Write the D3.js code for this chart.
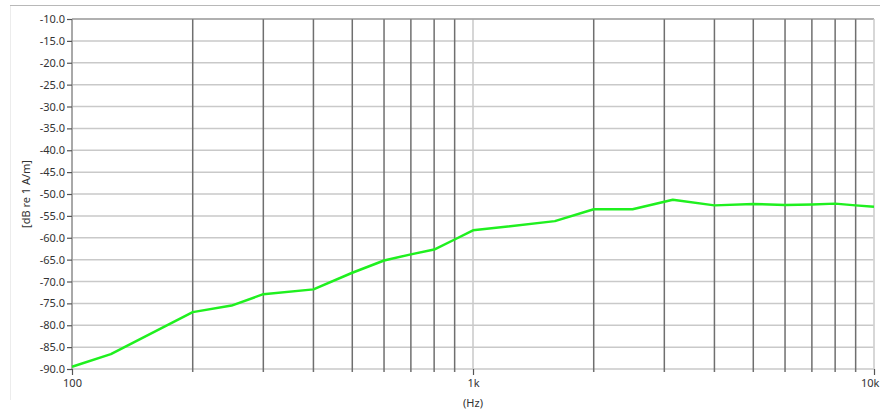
<!DOCTYPE html>
<html>
<head>
<meta charset="utf-8">
<script src="https://cdn.jsdelivr.net/npm/d3@7"></script>
<style>
  html, body { margin: 0; padding: 0; background: #fff; }
  svg { display: block; font-family: "Noto Sans", "Open Sans", sans-serif; }
</style>
</head>
<body>
<svg id="chart" width="880" height="415"></svg>
<script>
// Data
const frequencies = [100, 125, 200, 250, 300, 400, 500, 600, 700, 800, 900, 1000, 1600, 2000, 2500, 3150, 4000, 5000, 6000, 7000, 8000, 9000, 10000];
const levels = [-89.5, -86.6, -77.0, -75.5, -72.9, -71.8, -68.0, -65.2, -63.8, -62.7, -60.4, -58.3, -56.2, -53.5, -53.5, -51.3, -52.6, -52.3, -52.5, -52.4, -52.2, -52.6, -52.9];
const yTicks = [-10, -15, -20, -25, -30, -35, -40, -45, -50, -55, -60, -65, -70, -75, -80, -85, -90];
const xMajorTicks = [100, 1000, 10000];
const xMajorLabels = ["100", "1k", "10k"];
const xMinorTicks = [200, 300, 400, 500, 600, 700, 800, 900, 2000, 3000, 4000, 5000, 6000, 7000, 8000, 9000];
const yTitle = "[dB re 1 A/m]";
const xTitle = "(Hz)";

const svg = d3.select("#chart");
const L = 72, R = 874, T = 19, B = 369;

const x = d3.scaleLog().domain([100, 10000]).range([L, R]);
const y = d3.scaleLinear().domain([-90, -10]).range([B, T]);

// outer frame remnants
svg.append("line").attr("x1", 10).attr("x2", 880).attr("y1", 5.5).attr("y2", 5.5)
  .attr("stroke", "#b8b8b8").attr("stroke-width", 1);
svg.append("line").attr("x1", 10.5).attr("x2", 10.5).attr("y1", 6).attr("y2", 400)
  .attr("stroke", "#ececec").attr("stroke-width", 1);

// horizontal grid
svg.append("g").selectAll("line").data(yTicks).join("line")
  .attr("x1", L).attr("x2", R)
  .attr("y1", d => y(d)).attr("y2", d => y(d))
  .attr("stroke", "#c9c9c9").attr("stroke-width", 1.5);

// major vertical grid (light)
svg.append("g").selectAll("line").data(xMajorTicks).join("line")
  .attr("x1", d => x(d)).attr("x2", d => x(d))
  .attr("y1", T).attr("y2", B)
  .attr("stroke", "#c9c9c9").attr("stroke-width", 1.5);

// minor vertical grid (dark)
svg.append("g").selectAll("line").data(xMinorTicks).join("line")
  .attr("x1", d => x(d)).attr("x2", d => x(d))
  .attr("y1", T).attr("y2", B + 3)
  .attr("stroke", "#6f6f6f").attr("stroke-width", 1.5);

// frame
svg.append("line").attr("x1", L).attr("x2", R).attr("y1", T).attr("y2", T)
  .attr("stroke", "#8a8a8a").attr("stroke-width", 1.2);
svg.append("line").attr("x1", L).attr("x2", L).attr("y1", T).attr("y2", B)
  .attr("stroke", "#8a8a8a").attr("stroke-width", 1.2);
svg.append("line").attr("x1", R).attr("x2", R).attr("y1", T).attr("y2", B)
  .attr("stroke", "#d8d8d8").attr("stroke-width", 1);

// Y axis
const yAxis = d3.axisLeft(y).tickValues(yTicks).tickSize(5).tickPadding(2)
  .tickFormat(d => d3.format(".1f")(d).replace("−", "-"));
const gy = svg.append("g").attr("transform", `translate(${L},0)`).call(yAxis);
gy.select(".domain").remove();
gy.selectAll(".tick line").attr("stroke", "#555").attr("stroke-width", 1.2);
gy.selectAll(".tick text").attr("fill", "#333").style("font-size", "11px")
  .style("font-family", "'Noto Sans', 'Open Sans', sans-serif");

// X axis
const xAxis = d3.axisBottom(x).tickValues(xMajorTicks).tickSize(6).tickPadding(4)
  .tickFormat((d, i) => xMajorLabels[i]);
const gx = svg.append("g").attr("transform", `translate(0,${B})`).call(xAxis);
gx.select(".domain").remove();
gx.selectAll(".tick line").attr("stroke", "#555").attr("stroke-width", 1.2);
gx.selectAll(".tick text").attr("fill", "#333").style("font-size", "11px")
  .style("font-family", "'Noto Sans', 'Open Sans', sans-serif");
// keep the last label inside the picture
gx.selectAll(".tick text").filter(d => d === 10000)
  .attr("text-anchor", "end").attr("dx", "5");

// titles
svg.append("text").attr("x", x(1000)).attr("y", 407).attr("text-anchor", "middle")
  .attr("fill", "#333").style("font-size", "11px").text(xTitle);
svg.append("text").attr("transform", `translate(30,${(T + B) / 2}) rotate(-90)`)
  .attr("text-anchor", "middle").attr("fill", "#333").style("font-size", "11px").text(yTitle);

// curve
const line = d3.line().x((d, i) => x(frequencies[i])).y(d => y(d));
svg.append("path").datum(levels).attr("d", line)
  .attr("fill", "none").attr("stroke", "#1ff01f").attr("stroke-width", 2.5)
  .attr("stroke-linejoin", "round");
</script>
</body>
</html>
